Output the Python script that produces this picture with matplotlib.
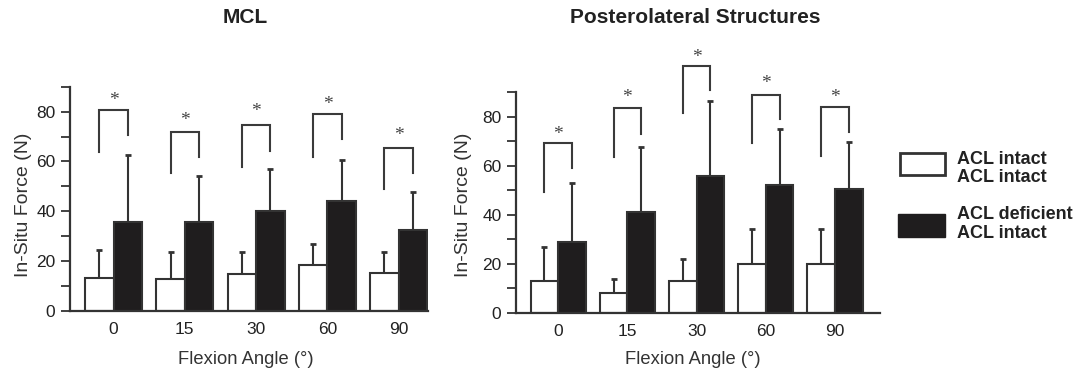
import matplotlib
matplotlib.use("Agg")
import matplotlib.pyplot as plt
from matplotlib.patches import Rectangle
from matplotlib.transforms import offset_copy
import numpy as np

plt.rcParams['font.family'] = ['Liberation Sans', 'DejaVu Sans']

# Flexion angles (degrees)
angles = ['0', '15', '30', '60', '90']

# MCL in-situ force (N): mean and upper SD
mcl_intact = [13.1, 12.7, 14.8, 18.3, 15.1]
mcl_intact_sd = [11.4, 11.1, 9.0, 8.6, 8.6]
mcl_deficient = [35.9, 35.9, 40.3, 44.3, 32.6]
mcl_deficient_sd = [26.7, 18.4, 16.6, 16.3, 15.0]

# Posterolateral structures in-situ force (N)
pls_intact = [12.9, 8.2, 12.9, 19.9, 19.7]
pls_intact_sd = [14.0, 5.4, 8.9, 14.4, 14.6]
pls_deficient = [29.0, 41.0, 55.9, 52.0, 50.7]
pls_deficient_sd = [24.1, 26.5, 30.5, 23.0, 19.1]

# Significance brackets: (left leg bottom, bracket top, right leg bottom), star height
mcl_brackets = [(63.9, 80.7, 70.6), (55.5, 72.0, 61.7), (57.9, 74.6, 64.3),
                (61.9, 79.1, 68.9), (48.8, 65.3, 55.5)]
mcl_stars = [86.7, 78.7, 82.0, 85.0, 72.6]
pls_brackets = [(49.1, 69.1, 58.9), (63.7, 83.4, 72.9), (81.4, 100.8, 90.9),
                (69.4, 89.1, 78.9), (64.1, 84.1, 73.6)]
pls_stars = [74.8, 90.2, 106.5, 95.6, 90.2]

W, H = 1088, 375
fig = plt.figure(figsize=(W / 100, H / 100), dpi=100)

DARK = '#1f1d1e'
LINE = '#333333'
TEXT = '#222222'
BW = 0.4
STAR_FS = 14


def panel(rect, intact, intact_sd, deficient, deficient_sd,
          brackets, stars, xmax):
    ax = fig.add_axes(rect)
    x = np.arange(len(angles))
    ax.bar(x - BW / 2, intact, BW, color='white', edgecolor=LINE,
           linewidth=1.5, zorder=2)
    ax.bar(x + BW / 2, deficient, BW, color=DARK, edgecolor=LINE,
           linewidth=1.5, zorder=2)
    ax.errorbar(x - BW / 2, intact, yerr=[np.zeros(len(x)), intact_sd],
                fmt='none', ecolor=LINE, elinewidth=1.5, capsize=2.5,
                capthick=2, zorder=1)
    ax.errorbar(x + BW / 2, deficient, yerr=[np.zeros(len(x)), deficient_sd],
                fmt='none', ecolor=LINE, elinewidth=1.5, capsize=2.5,
                capthick=2, zorder=1)
    # asterisk glyph sits about half an em above the baseline
    star_tr = offset_copy(ax.transData, fig=fig, y=-0.5 * STAR_FS,
                          units='points')
    for xi, (lo, top, ro), sy in zip(x, brackets, stars):
        ax.plot([xi - BW / 2, xi - BW / 2, xi + BW / 2, xi + BW / 2],
                [lo, top, top, ro], color='#3a3a3a', lw=1.5,
                clip_on=False, solid_joinstyle='miter')
        ax.text(xi, sy, '*', ha='center', va='baseline', fontsize=STAR_FS,
                family='Liberation Serif', color='#444444', clip_on=False,
                transform=star_tr)
    ax.set_xlim(-0.61, xmax)
    ax.set_ylim(0, 90)
    ax.set_xticks(x)
    ax.set_xticklabels(angles)
    ax.set_yticks([0, 20, 40, 60, 80])
    ax.set_yticks(np.arange(10, 100, 20), minor=True)
    ax.tick_params(axis='x', length=0, pad=8, labelsize=12.5, colors=TEXT)
    ax.tick_params(axis='y', which='both', length=6.5, width=1.3,
                   color=LINE, pad=4, labelsize=12.5, labelcolor=TEXT)
    for s in ('top', 'right'):
        ax.spines[s].set_visible(False)
    for s in ('left', 'bottom'):
        ax.spines[s].set_linewidth(1.6)
        ax.spines[s].set_color(LINE)
    return ax


ax1 = panel([70 / W, (H - 311) / H, 358 / W, 224.3 / H],
            mcl_intact, mcl_intact_sd, mcl_deficient, mcl_deficient_sd,
            mcl_brackets, mcl_stars, 4.41)
ax2 = panel([516 / W, (H - 312.7) / H, 364 / W, 220.4 / H],
            pls_intact, pls_intact_sd, pls_deficient, pls_deficient_sd,
            pls_brackets, pls_stars, 4.65)

# Panel titles
fig.text(245.5 / W, 1 - 17.5 / H, 'MCL', ha='center', va='center',
         fontsize=15, fontweight='bold', color=TEXT)
fig.text(695.5 / W, 1 - 17.5 / H, 'Posterolateral Structures', ha='center',
         va='center', fontsize=15, fontweight='bold', color=TEXT)

# Axis labels
for xc in (23.5, 463):
    fig.text(xc / W, 1 - 205 / H, 'In-Situ Force (N)', rotation=90,
             ha='center', va='center', fontsize=14, color='#333333')
for xc in (246, 693):
    fig.text(xc / W, 1 - 359 / H, 'Flexion Angle (°)', ha='center',
             va='center', fontsize=13.2, color='#333333')

# Legend drawn in figure coordinates
fig.patches.append(Rectangle((900 / W, 1 - 175 / H), 45 / W, 22 / H,
                             transform=fig.transFigure, facecolor='white',
                             edgecolor=LINE, linewidth=2))
fig.patches.append(Rectangle((898 / W, 1 - 237 / H), 47 / W, 23 / H,
                             transform=fig.transFigure, facecolor=DARK,
                             edgecolor=DARK, linewidth=1))
fig.text(957 / W, 1 - 168.7 / H, 'ACL intact\nACL intact', ha='left',
         va='center', fontsize=13, fontweight='bold', color=TEXT,
         linespacing=1.12)
fig.text(957 / W, 1 - 224 / H, 'ACL deficient\nACL intact', ha='left',
         va='center', fontsize=13, fontweight='bold', color=TEXT,
         linespacing=1.12)

fig.savefig('out.png', dpi=100, facecolor='white')
